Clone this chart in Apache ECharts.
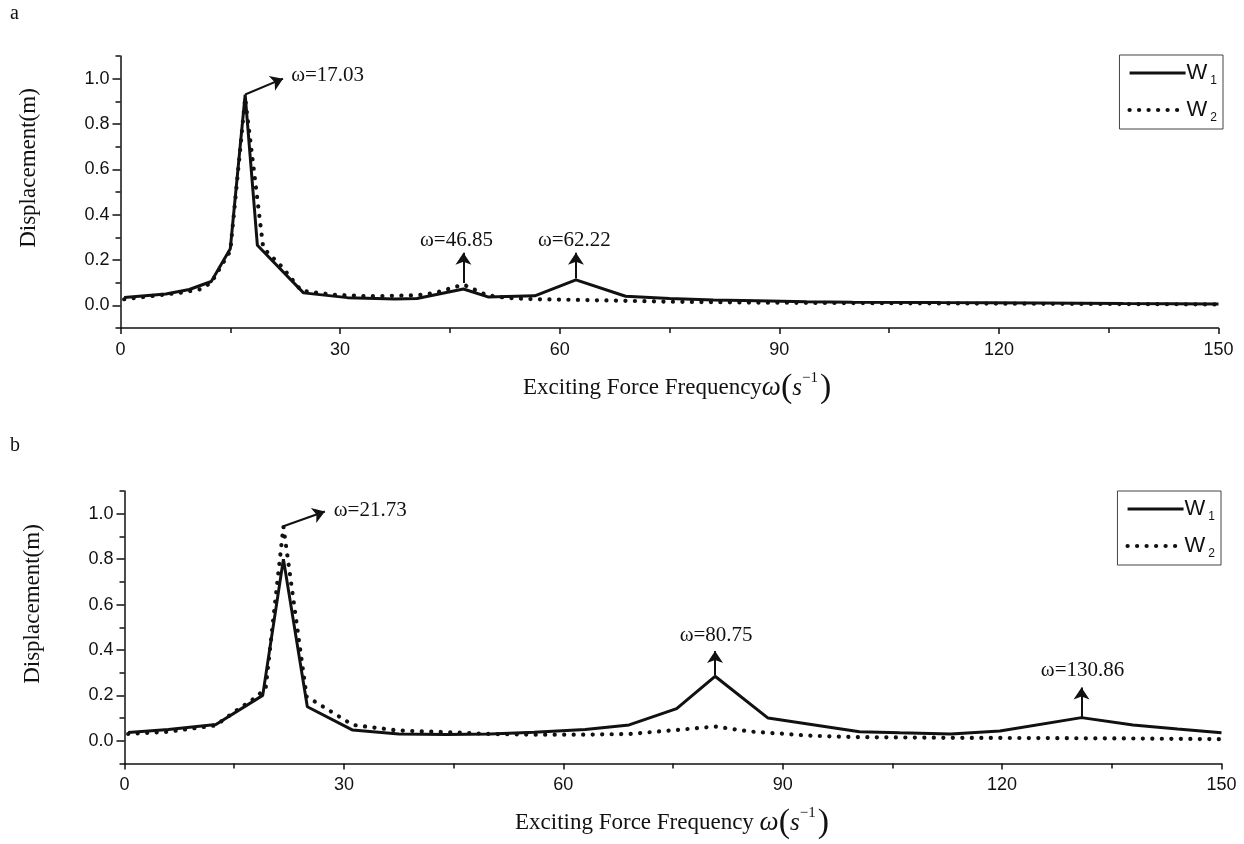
<!DOCTYPE html>
<html>
<head>
<meta charset="utf-8">
<script src="https://cdn.jsdelivr.net/npm/echarts@6/dist/echarts.min.js"></script>
<style>
html,body{margin:0;padding:0;background:#fff;}
#chart{width:1244px;height:844px;}
</style>
</head>
<body>
<div id="chart"></div>
<script>
// ---- Data ----
const freqA_W1 = [0.5, 6.2, 9.4, 12.4, 15.0, 17.03, 18.7, 25.0, 31.0, 37.5, 40.5, 46.85, 50.2, 56.6, 62.22, 69.0, 75.0, 81.0, 87.0, 93.7, 100, 112, 125, 137, 150];
const dispA_W1 = [0.035, 0.05, 0.07, 0.105, 0.25, 0.93, 0.265, 0.055, 0.034, 0.028, 0.03, 0.072, 0.037, 0.042, 0.112, 0.04, 0.03, 0.024, 0.02, 0.016, 0.014, 0.012, 0.01, 0.008, 0.006];

const freqA_W2 = [0.5, 8.0, 10.8, 12.4, 15.0, 17.03, 19.5, 22.0, 24.7, 29.0, 33.6, 40.4, 43.0, 46.85, 50.0, 53.0, 56.6, 62.22, 69.0, 75.0, 87.0, 100, 125, 150];
const dispA_W2 = [0.027, 0.055, 0.07, 0.1, 0.24, 0.915, 0.253, 0.172, 0.065, 0.047, 0.04, 0.044, 0.055, 0.092, 0.045, 0.032, 0.027, 0.024, 0.02, 0.016, 0.012, 0.01, 0.007, 0.004];

const freqB_W1 = [0.5, 6.0, 12.5, 18.9, 21.73, 25.0, 31.2, 37.5, 44.0, 50.0, 56.0, 63.0, 69.0, 75.5, 80.75, 88.0, 100.5, 106.0, 113.0, 119.7, 130.86, 137.9, 144.0, 150];
const dispB_W1 = [0.037, 0.05, 0.072, 0.2, 0.80, 0.15, 0.047, 0.03, 0.028, 0.03, 0.038, 0.05, 0.07, 0.142, 0.284, 0.1, 0.04, 0.035, 0.03, 0.043, 0.102, 0.07, 0.052, 0.035];

const freqB_W2 = [0.5, 6.0, 12.5, 14.8, 17.9, 19.3, 21.73, 24.9, 31.2, 37.5, 44.0, 50.0, 56.0, 63.0, 69.0, 76.0, 80.75, 85.5, 94.0, 100.5, 113.0, 125.0, 138.0, 150];
const dispB_W2 = [0.03, 0.04, 0.068, 0.122, 0.19, 0.23, 0.943, 0.195, 0.07, 0.045, 0.038, 0.03, 0.027, 0.027, 0.03, 0.049, 0.063, 0.041, 0.022, 0.016, 0.013, 0.012, 0.01, 0.007];

// Peak annotations: arrow start (x0,y0) -> arrow end (x1,y1); label text centre (lx,ly)
const annotA = [
  {x0: 17.03, y0: 0.93, x1: 22.2, y1: 1.0, text: 'ω=17.03', lx: 28.3, ly: 1.012},
  {x0: 46.85, y0: 0.098, x1: 46.85, y1: 0.232, text: 'ω=46.85', lx: 45.9, ly: 0.284},
  {x0: 62.22, y0: 0.118, x1: 62.22, y1: 0.232, text: 'ω=62.22', lx: 62.0, ly: 0.284}
];
const annotB = [
  {x0: 21.73, y0: 0.945, x1: 27.4, y1: 1.01, text: 'ω=21.73', lx: 33.6, ly: 1.014},
  {x0: 80.75, y0: 0.29, x1: 80.75, y1: 0.395, text: 'ω=80.75', lx: 80.9, ly: 0.462},
  {x0: 130.86, y0: 0.105, x1: 130.86, y1: 0.235, text: 'ω=130.86', lx: 131.0, ly: 0.308}
];

const xTickValues = [0, 30, 60, 90, 120, 150];
const yLabelValues = [0, 0.2, 0.4, 0.6, 0.8, 1.0];
const seriesNames = ['W1', 'W2'];

// ---- Build chart ----
const SANS = '"Liberation Sans", Arial, sans-serif';
const SERIF = '"Liberation Serif", "Times New Roman", serif';
const INK = '#111';

function pairs(xs, ys) { return xs.map((x, i) => [x, ys[i]]); }

function xAxisCfg(gridIndex) {
  return {
    type: 'value', gridIndex, min: 0, max: 150, interval: 30,
    axisLine: {show: true, onZero: false, lineStyle: {color: INK, width: 1.5}},
    axisTick: {show: true, length: 6, lineStyle: {color: INK, width: 1.5}},
    minorTick: {show: true, splitNumber: 2, length: 5, lineStyle: {color: INK, width: 1.5}},
    splitLine: {show: false},
    axisLabel: {color: INK, fontFamily: SANS, fontSize: 18, margin: 13,
      customValues: xTickValues}
  };
}
function yMainCfg(gridIndex) {
  return {
    type: 'value', gridIndex, min: -0.1, max: 1.1,
    axisLine: {show: true, onZero: false, lineStyle: {color: INK, width: 1.5}},
    axisTick: {show: true, length: 8, customValues: yLabelValues, lineStyle: {color: INK, width: 1.5}},
    splitLine: {show: false},
    axisLabel: {color: INK, fontFamily: SANS, fontSize: 18, margin: 11,
      customValues: yLabelValues, formatter: v => v.toFixed(1)}
  };
}
function yMinorCfg(gridIndex) {
  return {
    type: 'value', gridIndex, min: -0.1, max: 1.1, interval: 0.1, position: 'left',
    axisLine: {show: false},
    axisTick: {show: true, length: 5, lineStyle: {color: INK, width: 1.5}},
    splitLine: {show: false},
    axisLabel: {show: false}
  };
}

function annotSeries(list) {
  return {
    markLine: {
      silent: true, animation: false,
      symbol: ['none', 'arrow'], symbolSize: 12,
      lineStyle: {color: INK, width: 2, type: 'solid'},
      itemStyle: {color: INK},
      label: {show: false},
      emphasis: {disabled: true},
      data: list.map(a => [{coord: [a.x0, a.y0]}, {coord: [a.x1, a.y1]}])
    },
    markPoint: {
      silent: true, animation: false,
      symbol: 'circle', symbolSize: 0,
      label: {show: true, position: 'inside', formatter: '{b}', color: INK,
        fontFamily: SERIF, fontSize: 21},
      data: list.map(a => ({name: a.text, coord: [a.lx, a.ly]}))
    }
  };
}

function lineSeries(name, xi, yi, data, dotted, annot) {
  const s = {
    name, type: 'line', xAxisIndex: xi, yAxisIndex: yi, data,
    symbol: 'none', animation: false, z: dotted ? 2 : 3,
    lineStyle: dotted
      ? {color: INK, width: 4.2, type: [0.1, 9.4], cap: 'round'}
      : {color: INK, width: 3},
    itemStyle: {color: INK}
  };
  if (annot) Object.assign(s, annotSeries(annot));
  return s;
}

const legendRich = {
  w: {fontFamily: SANS, fontSize: 22, color: INK},
  s: {fontFamily: SANS, fontSize: 12, color: INK, verticalAlign: 'bottom', padding: [16, 0, 0, 3]}
};
function legendCfg(top, right) {
  return {
    data: seriesNames, orient: 'vertical', top, right,
    itemWidth: 56, itemHeight: 14, itemGap: 12,
    borderColor: '#444', borderWidth: 1, padding: [7, 6, 5, 8],
    selectedMode: false,
    itemStyle: {opacity: 0},
    lineStyle: {width: 'inherit'},
    formatter: n => '{w|W}{s|' + n.slice(1) + '}',
    textStyle: {rich: legendRich, padding: [0, 0, 0, -4]}
  };
}

const titleRich = {
  w: {fontFamily: SERIF, fontSize: 27, fontStyle: 'italic', fill: INK},
  p: {fontFamily: SERIF, fontSize: 34, fill: INK, fontWeight: 100},
  s: {fontFamily: SERIF, fontSize: 25, fontStyle: 'italic', fill: INK},
  sup: {fontFamily: SERIF, fontSize: 15, fill: INK, verticalAlign: 'top', padding: [0, 2, 14, 0]}
};

const option = {
  backgroundColor: '#fff',
  animation: false,
  grid: [
    {left: 120.5, top: 56, width: 1098, height: 272},
    {left: 124.5, top: 491, width: 1097, height: 272.5}
  ],
  xAxis: [xAxisCfg(0), xAxisCfg(1)],
  yAxis: [yMainCfg(0), yMinorCfg(0), yMainCfg(1), yMinorCfg(1)],
  legend: [legendCfg(55, 21), legendCfg(491, 23)],
  series: [
    lineSeries('W2', 0, 0, pairs(freqA_W2, dispA_W2), true, null),
    lineSeries('W1', 0, 0, pairs(freqA_W1, dispA_W1), false, annotA),
    lineSeries('W2', 1, 2, pairs(freqB_W2, dispB_W2), true, null),
    lineSeries('W1', 1, 2, pairs(freqB_W1, dispB_W1), false, annotB)
  ],
  graphic: [
    {type: 'text', x: 10, y: 4, style: {text: 'a', font: '20px ' + SERIF, fill: INK}},
    {type: 'text', x: 10, y: 436, style: {text: 'b', font: '20px ' + SERIF, fill: INK}},
    {type: 'text', x: 29, y: 168, rotation: Math.PI / 2,
      style: {text: 'Displacement(m)', font: '23px ' + SERIF, fill: INK, align: 'center', verticalAlign: 'middle'}},
    {type: 'text', x: 33, y: 604, rotation: Math.PI / 2,
      style: {text: 'Displacement(m)', font: '23px ' + SERIF, fill: INK, align: 'center', verticalAlign: 'middle'}},
    {type: 'text', x: 523, y: 388,
      style: {text: 'Exciting Force Frequency{w|ω}{p|(}{s|s}{sup|−1}{p|)}', font: '23px ' + SERIF, fill: INK,
        align: 'left', verticalAlign: 'middle', rich: titleRich}},
    {type: 'text', x: 515, y: 823,
      style: {text: 'Exciting Force Frequency {w|ω}{p|(}{s|s}{sup|−1}{p|)}', font: '23px ' + SERIF, fill: INK,
        align: 'left', verticalAlign: 'middle', rich: titleRich}}
  ]
};

const chart = echarts.init(document.getElementById('chart'), null, {renderer: 'canvas'});
chart.setOption(option);
</script>
</body>
</html>
